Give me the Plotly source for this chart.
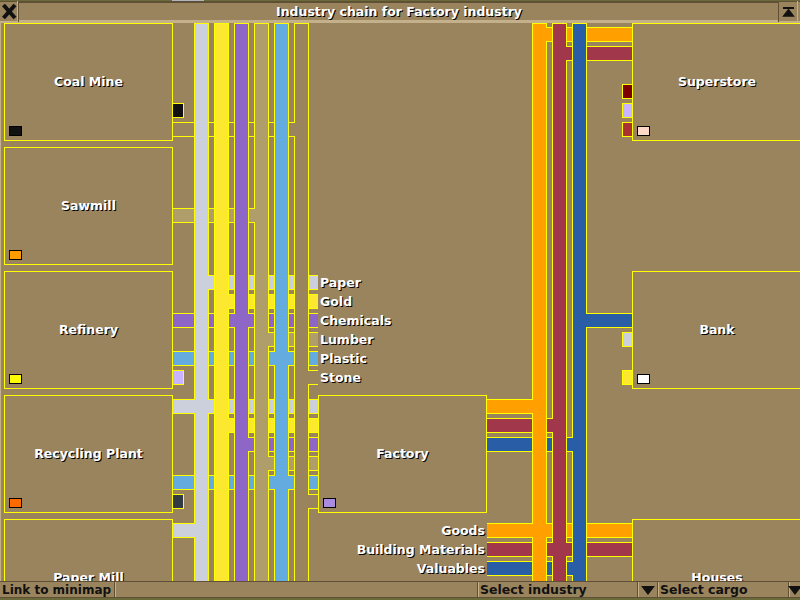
import plotly.graph_objects as go

# cargo columns, left of the factory and right of it
input_cargos = ["Paper", "Gold", "Chemicals", "Lumber", "Plastic", "Stone"]
output_cargos = ["Goods", "Building Materials", "Valuables"]

# industries: name, row in the window
producers = ["Coal Mine", "Sawmill", "Refinery", "Recycling Plant", "Paper Mill"]
producer_rows = [0, 1, 2, 3, 4]
consumers = ["Superstore", "Bank", "Houses"]
consumer_rows = [0, 2, 4]
factory_row = 3

# links: cargo index, industry row, slot in that row
producer_links = [
    (5, 0, 5),
    (3, 1, 3),
    (2, 2, 2),
    (4, 2, 4),
    (0, 3, 0),
    (4, 3, 4),
    (0, 4, 0),
]
consumer_links = [
    (0, 0, 0),
    (1, 0, 1),
    (2, 2, 2),
    (0, 4, 0),
    (1, 4, 1),
]
factory_out_slots = [0, 1, 2]
legend_in_row = 2
legend_out_row = 4

# stubs for cargo that goes nowhere shown: row, slot, colour name
producer_stubs = [(0, 4, "coal"), (2, 5, "lilac"), (3, 5, "steel")]
consumer_stubs = [(0, 3, "maroon"), (0, 4, "lilac"), (0, 5, "red"), (2, 3, "Paper"), (2, 5, "Gold")]

# little map colour flags
producer_flags = ["#111111", "#ff9c00", "#ffff00", "#ff6a00", None]
consumer_flags = ["#ffd8c8", "#ffffff", None]
factory_flag = "#a98ce0"

colors = {
    "Paper": "#ccd0dc",
    "Gold": "#fce82e",
    "Chemicals": "#8e66c6",
    "Lumber": "#b09e6a",
    "Plastic": "#64acdf",
    "Stone": "#9a845e",
    "Goods": "#ff9f00",
    "Building Materials": "#a0374b",
    "Valuables": "#295ea7",
    "coal": "#111111",
    "lilac": "#c8b4ff",
    "steel": "#333a44",
    "maroon": "#7d0000",
    "red": "#aa3232",
}
bg = "#9a845e"
dark = "#5f4f35"
light = "#c4b08a"
outline = "#ffff00"

footer_labels = ["Link to minimap", "Select industry", "Select cargo"]
title = "Industry chain for Factory industry"

fig = go.Figure()


def rect(x0, y0, x1, y1, color):
    # x1, y1 are the last pixels inside
    fig.add_trace(go.Scatter(
        x=[x0, x1 + 1, x1 + 1, x0, x0], y=[y0, y0, y1 + 1, y1 + 1, y0],
        mode="lines", fill="toself", fillcolor=color, line=dict(width=0),
        hoverinfo="skip", showlegend=False))


def label(x, y, text, pos="middle center", color="white", shadow="1px 1px 0 #000", size=12.5):
    fig.add_trace(go.Scatter(
        x=[x], y=[y], mode="text", text=[text], textposition=pos,
        textfont=dict(family="DejaVu Sans", size=size, color=color, shadow=shadow, weight="bold"),
        hoverinfo="skip", showlegend=False))


def row_top(row):
    return 23 + 124 * row


def slot_y(row, slot):
    return row_top(row) + 4 + 19 * slot


def in_x(i):
    return 194 + 20 * i


def out_x(i):
    return 532 + 20 * i


def hband(x0, x1, y, color):
    rect(x0, y, x1, y + 14, outline)
    rect(x0, y + 1, x1, y + 13, color)


def box(x0, y0, x1, y1):
    rect(x0, y0, x1, y1, outline)
    rect(x0 + 1, y0 + 1, x1 - 1, y1 - 1, bg)


def stub(x0, x1, y, color):
    rect(x0, y, x1, y + 14, outline)
    rect(x0 + 1, y + 1, x1 - 1, y + 13, color)


def flag(x, y, color):
    rect(x, y, x + 12, y + 9, "#000000")
    rect(x + 1, y + 1, x + 11, y + 8, color)


openings = []

# horizontal bands go under the columns
for cargo, row, slot in producer_links:
    y = slot_y(row, slot)
    name = input_cargos[cargo]
    hband(173, in_x(cargo), y, colors[name])
    openings.append((in_x(cargo), y, colors[name]))

for i, name in enumerate(input_cargos):
    for row in (legend_in_row, factory_row):
        y = slot_y(row, i)
        hband(in_x(i) + 14, 317, y, colors[name])
        openings.append((in_x(i) + 14, y, colors[name]))

for cargo, row, slot in consumer_links:
    y = slot_y(row, slot)
    name = output_cargos[cargo]
    hband(out_x(cargo) + 14, 631, y, colors[name])
    openings.append((out_x(cargo) + 14, y, colors[name]))

for row in (factory_row, legend_out_row):
    for i, name in enumerate(output_cargos):
        y = slot_y(row, factory_out_slots[i])
        hband(487, out_x(i), y, colors[name])
        openings.append((out_x(i), y, colors[name]))

for i, name in enumerate(input_cargos):
    rect(in_x(i), 23, in_x(i) + 14, 590, outline)
    rect(in_x(i) + 1, 24, in_x(i) + 13, 590, colors[name])
for i, name in enumerate(output_cargos):
    rect(out_x(i), 23, out_x(i) + 14, 590, outline)
    rect(out_x(i) + 1, 24, out_x(i) + 13, 590, colors[name])

# knock the column edge out where a band joins
for x, y, color in openings:
    rect(x, y + 1, x, y + 13, color)

for row, slot, name in producer_stubs:
    stub(172, 183, slot_y(row, slot), colors[name])
for row, slot, name in consumer_stubs:
    stub(622, 632, slot_y(row, slot), colors[name])

# industry boxes
for name, row, fl in zip(producers, producer_rows, producer_flags):
    top = row_top(row)
    box(4, top, 172, top + 117)
    label(88.5, top + 59.5, name)
    if fl:
        flag(9, top + 103, fl)
for name, row, fl in zip(consumers, consumer_rows, consumer_flags):
    top = row_top(row)
    box(632, top, 805, top + 117)
    label(717, top + 59.5, name)
    if fl:
        flag(637, top + 103, fl)
top = row_top(factory_row)
box(318, top, 486, top + 117)
label(402.5, top + 59.5, "Factory")
flag(323, top + 103, factory_flag)

for i, name in enumerate(input_cargos):
    label(320, slot_y(legend_in_row, i) + 8.5, name, pos="middle right")
for i, name in enumerate(output_cargos):
    label(485, slot_y(legend_out_row, i) + 8.5, name, pos="middle left")

# window frame
rect(0, 23, 0, 581, light)
rect(0, 0, 799, 0, "#6a6a3a")
rect(172, 0, 203, 0, "#b0b4bc")
rect(0, 1, 799, 22, bg)
rect(0, 1, 799, 1, dark)
rect(0, 21, 799, 22, light)
for x in (17, 18, 778, 797):
    rect(x, 1, x, 21, light if x in (17, 797) else dark)
rect(19, 2, 777, 2, dark)
rect(19, 20, 777, 20, light)
label(399, 12.5, title)
fig.add_trace(go.Scatter(x=[3.5, 15, None, 15, 3.5], y=[5, 18, None, 5, 18], mode="lines",
                         line=dict(color="#111111", width=4), hoverinfo="skip", showlegend=False))
rect(783, 7, 793, 8, "#111111")
fig.add_trace(go.Scatter(x=[788.5], y=[14], mode="markers",
                         marker=dict(symbol="triangle-up", size=11, color="#111111", line=dict(width=0)),
                         hoverinfo="skip", showlegend=False))

# bottom bar
rect(0, 581, 799, 597, bg)
rect(0, 581, 799, 581, dark)
rect(0, 597, 799, 597, dark)
for x in (114, 477, 637, 657, 788):
    rect(x, 582, x, 596, dark)
    rect(x + 1, 582, x + 1, 596, light)
rect(0, 598, 799, 599, "#6a6a3a")
label(2, 590.5, footer_labels[0], pos="middle right", color="#111111", shadow="none", size=12)
label(480, 590.5, footer_labels[1], pos="middle right", color="#111111", shadow="none")
label(660, 590.5, footer_labels[2], pos="middle right", color="#111111", shadow="none")
fig.add_trace(go.Scatter(x=[648, 795], y=[589, 589], mode="markers",
                         marker=dict(symbol="triangle-down", size=12, color="#111111", line=dict(width=0)),
                         hoverinfo="skip", showlegend=False))

fig.update_layout(
    width=800, height=600, margin=dict(l=0, r=0, t=0, b=0, pad=0),
    paper_bgcolor=bg, plot_bgcolor=bg, showlegend=False,
    xaxis=dict(range=[0, 800], visible=False, fixedrange=True),
    yaxis=dict(range=[600, 0], visible=False, fixedrange=True),
)
fig.write_html("out.html", config={"displayModeBar": False},
               post_script="document.body.style.margin='0';document.body.style.overflow='hidden';")
